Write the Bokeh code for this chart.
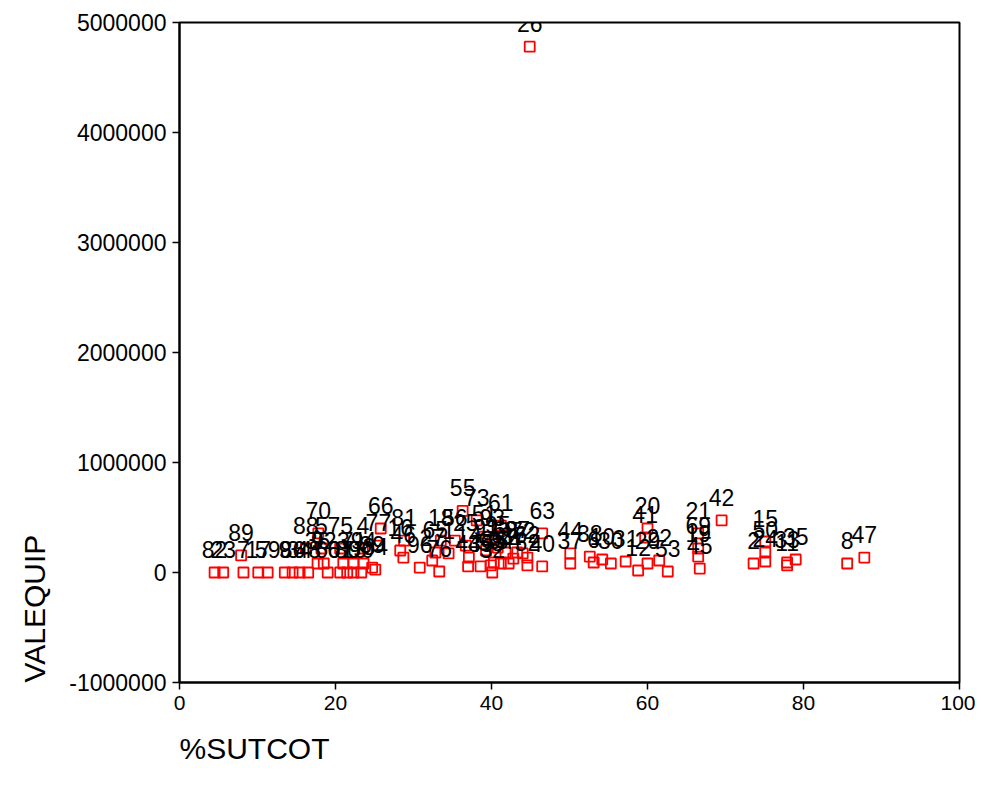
import math
from bokeh.plotting import figure
from bokeh.models import ColumnDataSource, FixedTicker, NumeralTickFormatter, Range1d, Title
from bokeh.core.properties import value
from bokeh.embed import file_html
from bokeh.resources import INLINE

# %SUTCOT values
pct_sutcot = [44.9, 4.5, 5.6, 7.9, 8.2, 10.1, 11.3, 13.5, 14.5, 15.4, 16.5, 19.0, 20.6, 21.5, 22.3, 23.3,
              24.7, 25.1, 17.7, 18.5, 21.0, 22.3, 23.6, 17.8, 16.2, 18.2, 20.6, 23.5, 25.5, 25.8,
              28.8, 28.3, 28.7, 30.8, 32.4, 32.8, 33.3, 33.5, 35.3, 36.3, 38.1, 41.2, 37.1, 37.0,
              38.6, 39.9, 40.1, 40.3, 41.2, 42.2, 42.8, 43.3, 44.6, 44.6, 46.5, 46.5, 50.1, 50.1,
              52.6, 53.1, 54.2, 55.3, 57.2, 58.8, 60.0, 59.7, 60.0, 61.5, 62.6, 66.5, 66.5, 66.5,
              66.7, 69.5, 73.6, 75.1, 75.1, 75.1, 77.9, 77.9, 79.0, 85.6, 87.8, 34.5, 39.3, 40.8,
              41.8, 44.0, 39.1, 40.1, 36.7]
# VALEQUIP values
valequip = [4780000, 0, 0, 155000, 0, 0, 0, 0, 0, 0, 0, 0, 0, 0, 0, 0,
            45000, 27000, 82000, 82000, 82000, 82000, 82000, 355000, 218000, 218000, 218000, 218000, 245000, 400000,
            290000, 200000, 136000, 45000, 109000, 182000, 9000, 290000, 290000, 560000, 473000, 427000, 136000, 55000,
            55000, 64000, 0, 91000, 82000, 82000, 127000, 182000, 64000, 136000, 355000, 55000, 173000, 82000,
            145000, 91000, 118000, 82000, 100000, 18000, 400000, 318000, 82000, 109000, 9000, 355000, 218000, 145000,
            36000, 473000, 82000, 282000, 182000, 100000, 91000, 64000, 118000, 82000, 136000, 173000, 200000, 227000,
            182000, 173000, 327000, 290000, 245000]
# case labels
case_ids = ["26", "82", "23", "89", "7", "17", "59", "9", "86", "34", "48", "60", "67", "80", "13", "90",
            "39", "84", "36", "92", "3", "71", "94", "70", "88", "5", "75", "4", "77", "66",
            "81", "16", "46", "96", "27", "65", "76", "18", "56", "55", "73", "61", "14", "43",
            "49", "58", "32", "85", "64", "54", "87", "97", "52", "62", "63", "40", "44", "37",
            "38", "6", "10", "30", "31", "12", "20", "41", "29", "22", "53", "21", "69", "19",
            "45", "42", "2", "15", "50", "24", "33", "11", "35", "8", "47", "1", "91", "95",
            "68", "72", "51", "93", "25"]

x_ticks = [0, 20, 40, 60, 80, 100]
y_ticks = [-1000000, 0, 1000000, 2000000, 3000000, 4000000, 5000000]
x_title = "%SUTCOT"
y_title = "VALEQUIP"

src = ColumnDataSource(dict(x=pct_sutcot, y=valequip, lab=case_ids))

p = figure(width=975, height=794, output_backend="svg", toolbar_location=None,
           x_range=Range1d(0, 100), y_range=Range1d(-1000000, 5000000),
           min_border_left=179, min_border_right=16, min_border_top=22, min_border_bottom=112)
p.background_fill_color = "white"
p.border_fill_color = "white"
p.outline_line_color = "black"
p.outline_line_width = 2
p.xgrid.visible = False
p.ygrid.visible = False

for ax in (p.xaxis[0], p.yaxis[0]):
    ax.axis_line_color = "black"
    ax.axis_line_width = 2
    ax.major_tick_line_color = "black"
    ax.major_tick_line_width = 1.5
    ax.major_tick_out = 7
    ax.major_tick_in = 0
    ax.minor_tick_line_color = None
    ax.major_label_text_color = "black"
    ax.major_label_text_font = "Liberation Sans"

p.xaxis[0].major_label_text_font_size = "21px"
p.yaxis[0].major_label_text_font_size = "23px"
p.xaxis[0].ticker = FixedTicker(ticks=x_ticks)
p.yaxis[0].ticker = FixedTicker(ticks=y_ticks)
p.yaxis[0].formatter = NumeralTickFormatter(format="0")
p.xaxis[0].major_label_standoff = 6
p.yaxis[0].major_label_standoff = 6

xt = Title(text=x_title, align="left", vertical_align="bottom", text_font="Liberation Sans",
           text_font_size="30px", text_font_style="normal", text_color="black", standoff=34)
yt = Title(text=y_title, align="left", text_font="Liberation Sans", text_font_size="30px",
           text_font_style="normal", text_color="black", standoff=31)
p.add_layout(xt, "below")
p.add_layout(yt, "left")

p.scatter("x", "y", source=src, marker="square", size=10, fill_color=None,
          line_color="#ff0000", line_width=1.8)
p.text("x", "y", text="lab", source=src, text_font=value("Liberation Sans"),
       text_font_size="23px", text_align="center", text_baseline="middle",
       y_offset=-23, text_color="black")

open("out.html", "w").write(file_html(p, INLINE))
